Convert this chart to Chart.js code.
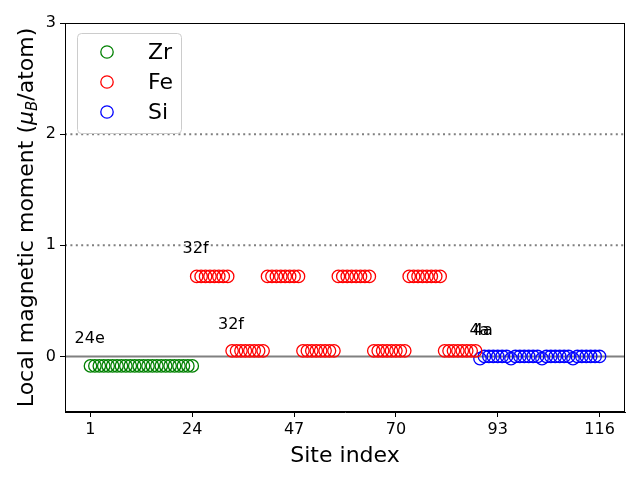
<!DOCTYPE html>
<html>
<head>
<meta charset="utf-8">
<script src="https://cdn.jsdelivr.net/npm/chart.js@4.4.1/dist/chart.umd.min.js"></script>
<style>
  html, body { margin: 0; padding: 0; background: #fff; }
  #wrap { width: 640px; height: 480px; }
</style>
</head>
<body>
<div id="wrap"><canvas id="chartMoment" width="640" height="480"></canvas></div>
<script>
/* =========================
   DATA
========================= */
const zrSite = [1,2,3,4,5,6,7,8,9,10,11,12,13,14,15,16,17,18,19,20,21,22,23,24];
const zrMoment = [-0.085,-0.085,-0.085,-0.085,-0.085,-0.085,-0.085,-0.085,-0.085,-0.085,-0.085,-0.085,
                  -0.085,-0.085,-0.085,-0.085,-0.085,-0.085,-0.085,-0.085,-0.085,-0.085,-0.085,-0.085];

const feSite = [25,26,27,28,29,30,31,32,33,34,35,36,37,38,39,40,
                41,42,43,44,45,46,47,48,49,50,51,52,53,54,55,56,
                57,58,59,60,61,62,63,64,65,66,67,68,69,70,71,72,
                73,74,75,76,77,78,79,80,81,82,83,84,85,86,87,88];
const feMoment = [0.72,0.72,0.72,0.72,0.72,0.72,0.72,0.72, 0.05,0.05,0.05,0.05,0.05,0.05,0.05,0.05,
                  0.72,0.72,0.72,0.72,0.72,0.72,0.72,0.72, 0.05,0.05,0.05,0.05,0.05,0.05,0.05,0.05,
                  0.72,0.72,0.72,0.72,0.72,0.72,0.72,0.72, 0.05,0.05,0.05,0.05,0.05,0.05,0.05,0.05,
                  0.72,0.72,0.72,0.72,0.72,0.72,0.72,0.72, 0.05,0.05,0.05,0.05,0.05,0.05,0.05,0.05];

const siSite = [89,90,91,92,93,94,95,96,97,98,99,100,101,102,
                103,104,105,106,107,108,109,110,111,112,113,114,115,116];
const siMoment = [-0.02,0,0,0,0,0,0, -0.02,0,0,0,0,0,0,
                  -0.02,0,0,0,0,0,0, -0.02,0,0,0,0,0,0];

const xTicks = [1, 24, 47, 70, 93, 116];
const yTicks = [0, 1, 2, 3];

// wyckoff labels (text, x, y in data units)
const siteLabels = ["24e", "32f", "32f", "4a", "4a"];
const siteLabelX = [-2.6, 21.8, 29.8, 86.6, 87.4];
const siteLabelY = [0.12, 0.93, 0.25, 0.19, 0.19];

// horizontal reference lines
const refY = [0, 1, 2];

/* =========================
   PLUGIN: garis, label, legend, judul
========================= */
const FONT = "'DejaVu Sans', sans-serif";

function toPoints(xs, ys) {
  return xs.map((x, i) => ({ x: x, y: ys[i] }));
}

const decorPlugin = {
  id: "decor",
  beforeDatasetsDraw(chart) {
    const { ctx, chartArea: a, scales } = chart;
    ctx.save();
    refY.forEach(v => {
      const py = scales.y.getPixelForValue(v);
      ctx.beginPath();
      ctx.strokeStyle = "#808080";
      ctx.lineWidth = 2;
      ctx.setLineDash(v === 0 ? [] : [2, 3.4]);
      ctx.moveTo(a.left, py);
      ctx.lineTo(a.right, py);
      ctx.stroke();
    });
    ctx.restore();
  },
  afterDraw(chart) {
    const { ctx, chartArea: a, scales } = chart;
    ctx.save();

    // frame
    ctx.strokeStyle = "#000";
    ctx.lineWidth = 1;
    ctx.strokeRect(a.left + 0.5, a.top + 0.5, a.right - a.left - 1, a.bottom - a.top - 1);

    // site labels
    ctx.fillStyle = "#000";
    ctx.font = "16px " + FONT;
    ctx.textBaseline = "alphabetic";
    ctx.textAlign = "left";
    siteLabels.forEach((t, i) => {
      ctx.fillText(t, scales.x.getPixelForValue(siteLabelX[i]), scales.y.getPixelForValue(siteLabelY[i]));
    });

    // legend
    const lx = 77, ly = 33, lw = 104, lh = 100;
    ctx.beginPath();
    ctx.roundRect(lx + 0.5, ly + 0.5, lw, lh, 4);
    ctx.fillStyle = "rgba(255,255,255,0.8)";
    ctx.fill();
    ctx.strokeStyle = "#cccccc";
    ctx.stroke();
    chart.data.datasets.forEach((ds, i) => {
      const my = 52 + i * 30;
      ctx.beginPath();
      ctx.arc(107, my, 6.2, 0, Math.PI * 2);
      ctx.strokeStyle = ds.borderColor;
      ctx.lineWidth = 1.3;
      ctx.stroke();
      ctx.fillStyle = "#000";
      ctx.font = "22px " + FONT;
      ctx.fillText(ds.label, 148, my + 6.5);
    });

    // x title
    ctx.font = "22px " + FONT;
    ctx.textAlign = "center";
    ctx.fillText("Site index", (a.left + a.right) / 2, 462);

    // y title with mu_B
    const parts = [
      { t: "Local magnetic moment (", f: "22px " + FONT, dy: 0 },
      { t: "\u03bc", f: "italic 22px " + FONT, dy: 0 },
      { t: "B", f: "italic 15px " + FONT, dy: 4 },
      { t: "/atom)", f: "22px " + FONT, dy: 0 }
    ];
    let total = 0;
    parts.forEach(p => { ctx.font = p.f; p.w = ctx.measureText(p.t).width; total += p.w; });
    ctx.translate(33, (a.top + a.bottom) / 2);
    ctx.rotate(-Math.PI / 2);
    ctx.textAlign = "left";
    let cx = -total / 2;
    parts.forEach(p => {
      ctx.font = p.f;
      ctx.fillText(p.t, cx, p.dy);
      cx += p.w;
    });

    ctx.restore();
  }
};

/* =========================
   CHART
========================= */
const pointStyle = (label, color, xs, ys) => ({
  label: label,
  data: toPoints(xs, ys),
  borderColor: color,
  backgroundColor: "rgba(0,0,0,0)",
  borderWidth: 1.3,
  pointRadius: 6.2,
  pointHoverRadius: 6.2,
  showLine: false
});

new Chart(document.getElementById("chartMoment"), {
  type: "scatter",
  data: {
    datasets: [
      pointStyle("Zr", "#008000", zrSite, zrMoment),
      pointStyle("Fe", "#ff0000", feSite, feMoment),
      pointStyle("Si", "#0000ff", siSite, siMoment)
    ]
  },
  options: {
    responsive: false,
    animation: false,
    events: [],
    layout: { padding: { left: 0, right: 15, top: 23, bottom: 0 } },
    plugins: {
      legend: { display: false },
      tooltip: { enabled: false }
    },
    scales: {
      x: {
        type: "linear",
        min: -4.75,
        max: 121.75,
        afterBuildTicks: s => { s.ticks = xTicks.map(v => ({ value: v })); },
        afterFit: s => { s.height = 68; },
        grid: { drawOnChartArea: false, drawTicks: true, tickLength: 5, color: "#000" },
        border: { color: "#000" },
        ticks: { color: "#000", font: { family: FONT, size: 16 }, padding: 3, maxRotation: 0 }
      },
      y: {
        type: "linear",
        min: -0.5,
        max: 3,
        afterBuildTicks: s => { s.ticks = yTicks.map(v => ({ value: v })); },
        afterFit: s => { s.width = 65; },
        grid: { drawOnChartArea: false, drawTicks: true, tickLength: 5, color: "#000" },
        border: { color: "#000" },
        ticks: { color: "#000", font: { family: FONT, size: 16 }, padding: 4 }
      }
    }
  },
  plugins: [decorPlugin]
});
</script>
</body>
</html>
